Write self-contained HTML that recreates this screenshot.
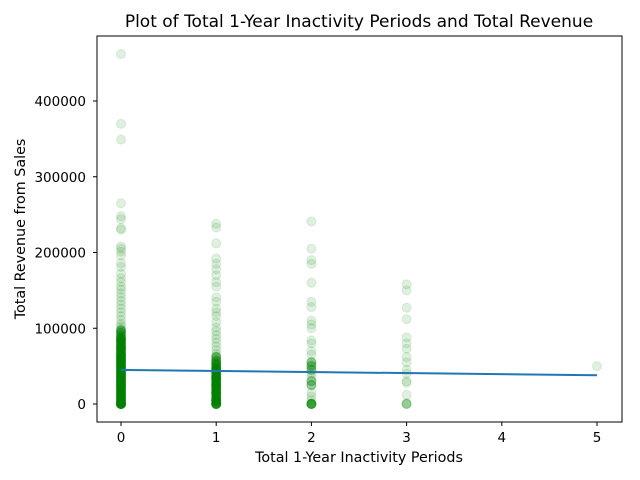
<!DOCTYPE html>
<html><head><meta charset="utf-8"><style>
body{margin:0;background:#fff;}
svg{display:block;font-family:"DejaVu Sans","Liberation Sans",sans-serif;}
</style></head><body>
<svg id="chart" width="640" height="480" viewBox="0 0 640 480" style="position:absolute;left:0;top:0"></svg>
<script>
const vals0 = [462000,370000,349000,265000,248000,244000,232000,230000,208000,205000,201000,196000,186000,181000,172000,166000,161000,155000,151000,146000,141000,136000,131000,126000,121000,116000,111000,106000,103000,100000,98000,95500,93000,91000,88500,86000,84000,81500,79000,77000,74500,72000,70000,67500,65000,63000,60500,58000,56000,53500,51000,49000,46500,44000,42000,39500,37000,35000,32500,30000,28000,25500,23000,21000,18500,16000,14000,11500,9000,7000,4500,2000,1000,500,0,0,0];
const dense0 = [97000,94000,90000,87000,85000,82000,80000,78000,75000,73000,71000,69000,66000,64000,62000,59000,57000,55000,52000,50000,48000,45000,43000,41000,38000,36000,34000,31000,29000,27000,24000,22000,20000,17000,15000,13000,10000,8000,6000,3000,1500,0,0,0,0,85000,75000,65000,55000,45000,35000,25000,15000,5000,60000,50000,40000,30000,20000,10000];
const vals1 = [238000,233000,212000,192000,185000,178000,170000,161000,155000,141000,135000,126000,121000,116000,108000,101000,96000,91000,86000,81000,76000,71000,66000,63000,60000,58000,55500,53000,50500,48000,46000,43500,41000,39000,36500,34000,32000,29500,27000,25000,22500,20000,18000,15500,13000,11000,8500,6000,4000,2000,1000,0,0,0];
const dense1 = [62000,57000,54000,52000,49000,47000,44000,42000,40000,37000,35000,33000,30000,28000,26000,23000,21000,19000,16000,14000,12000,9000,7000,5000,3000,0,0,0,45000,35000,25000,15000,5000];
const dense2 = [55000,50000,45000,30000,25000,0,0];
const vals2 = [241000,205000,190000,185000,160000,135000,128000,110000,105000,100000,84000,80000,70000,65000,56000,52000,50000,45000,41000,36000,31000,25000,15000,10000,5000,1000,0,0,0,0];
const vals3 = [158000,150000,127000,112000,88000,80000,73000,62000,55000,45000,40000,30000,28000,12000,1000,0,0,0];
const vals5 = [50000];
const xTicks = [0,1,2,3,4,5];
const yTicks = [0,100000,200000,300000,400000];
const fitLine = [[0,45000],[5,38000]];

const svg = document.getElementById('chart');
const NS = 'http://www.w3.org/2000/svg';
const L=97,R=622,T=36,B=422;
const xS = v => 121 + v*95.2;
const yS = v => 404 - v*303/400000;
function mk(tag, attrs, parent){const e=document.createElementNS(NS,tag);for(const k in attrs)e.setAttribute(k,attrs[k]);(parent||svg).appendChild(e);return e;}

const pts = mk('g',{});


[[0,vals0,0.12],[0,dense0,0.4],[1,vals1,0.12],[1,dense1,0.4],[2,vals2,0.12],[2,dense2,0.3],[3,vals3,0.12],[5,vals5,0.12]].forEach(([x,arr,op])=>{
  arr.forEach(v=>{
    const c=mk('circle',{cx:xS(x),cy:yS(v),r:4.5,fill:'green','fill-opacity':op,stroke:'green','stroke-opacity':op},pts);
    
    
  });
});
const fl = mk('line',{x1:xS(fitLine[0][0]),y1:yS(fitLine[0][1]),x2:xS(fitLine[1][0]),y2:yS(fitLine[1][1]),stroke:'#1f77b4','stroke-width':2});



const frame = mk('rect',{x:L,y:T,width:R-L,height:B-T,fill:'none',stroke:'#000','stroke-width':1});



xTicks.forEach(t=>{
  mk('line',{x1:xS(t),y1:B,x2:xS(t),y2:B+4,stroke:'#000'});
  const tx=mk('text',{x:xS(t),y:B+20,'font-size':13.5,'text-anchor':'middle'});
  tx.textContent=t;
  
  
});
yTicks.forEach(t=>{
  mk('line',{x1:L-4,y1:yS(t),x2:L,y2:yS(t),stroke:'#000'});
  const tx=mk('text',{x:L-11,y:yS(t)+5,'font-size':13.5,'text-anchor':'end'});
  tx.textContent=t;
  
  
});
</script>
<svg style="position:absolute;left:0;top:0" width="640" height="480">
<text x="359" y="27" font-size="17" text-anchor="middle" font-family="DejaVu Sans, Liberation Sans, sans-serif">Plot of Total 1-Year Inactivity Periods and Total Revenue</text>
<text x="359" y="462" font-size="14.3" text-anchor="middle" font-family="DejaVu Sans, Liberation Sans, sans-serif">Total 1-Year Inactivity Periods</text>
<text x="25" y="229" font-size="14.3" text-anchor="middle" transform="rotate(-90 25 229)" font-family="DejaVu Sans, Liberation Sans, sans-serif">Total Revenue from Sales</text>
</svg>
</body></html>
